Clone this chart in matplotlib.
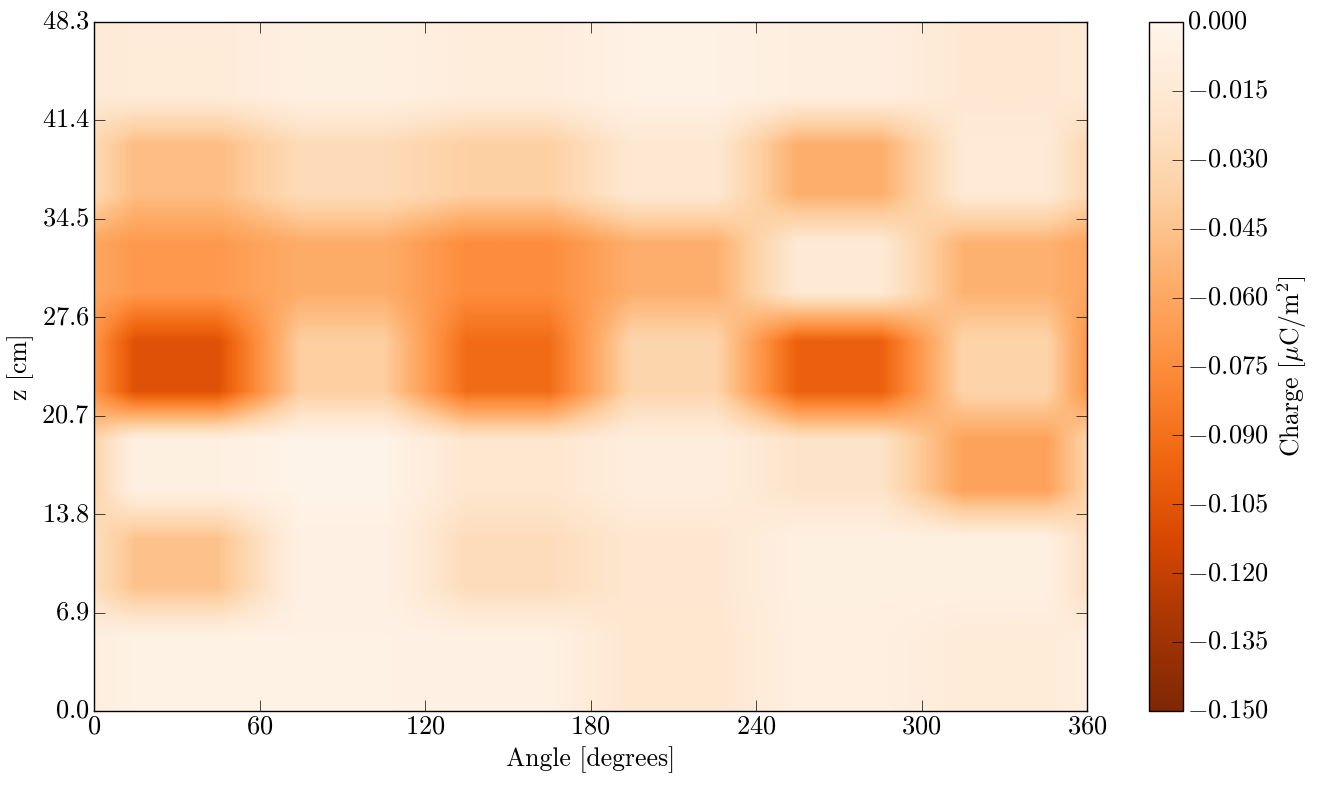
#!/usr/bin/env python3
"""
Surface charge map: angle vs height, smoothed heat map.
"""

import numpy as np
import matplotlib
matplotlib.use('Agg')
import matplotlib.pyplot as plt

plt.style.use('classic')
plt.rcParams['font.family'] = 'serif'
plt.rcParams['font.serif'] = ['cmr10', 'DejaVu Serif']
plt.rcParams['mathtext.fontset'] = 'cm'
plt.rcParams['axes.unicode_minus'] = False

# Bin edges
angle_edges = [0, 60, 120, 180, 240, 300, 360]
z_edges = [0.0, 6.9, 13.8, 20.7, 27.6, 34.5, 41.4, 48.3]

# Charge per bin [uC/m^2], rows = z bins from bottom, columns = angle bins
row_z0 = [-0.004, -0.004, -0.005, -0.018, -0.007, -0.012]
row_z1 = [-0.045, -0.005, -0.027, -0.017, -0.006, -0.006]
row_z2 = [-0.006, -0.002, -0.018, -0.009, -0.021, -0.063]
row_z3 = [-0.107, -0.038, -0.092, -0.033, -0.099, -0.034]
row_z4 = [-0.068, -0.057, -0.075, -0.056, -0.015, -0.054]
row_z5 = [-0.048, -0.028, -0.037, -0.016, -0.056, -0.014]
row_z6 = [-0.012, -0.006, -0.010, -0.004, -0.008, -0.016]

cbar_ticks = [0.0, -0.015, -0.030, -0.045, -0.060, -0.075, -0.090,
              -0.105, -0.120, -0.135, -0.150]

charge = np.array([row_z0, row_z1, row_z2, row_z3, row_z4, row_z5, row_z6])

# upsample each bin to 2x2 and wrap one column around in angle
img = np.repeat(np.repeat(charge, 2, axis=0), 2, axis=1)
img = np.hstack([img[:, -1:], img, img[:, :1]])
dstep = (angle_edges[1] - angle_edges[0]) / 2.0

fig = plt.figure(figsize=(13.17, 7.88), dpi=100)
fig.patch.set_facecolor('white')
ax = fig.add_axes([0.0714, 0.0977, 0.754, 0.8744])
cax = fig.add_axes([0.8724, 0.0977, 0.0259, 0.8744])

im = ax.imshow(img, origin='lower', aspect='auto', cmap='Oranges_r',
               vmin=-0.15, vmax=0.0, interpolation='bilinear',
               extent=[angle_edges[0] - dstep, angle_edges[-1] + dstep,
                       z_edges[0], z_edges[-1]])
ax.set_xlim(angle_edges[0], angle_edges[-1])
ax.set_ylim(z_edges[0], z_edges[-1])

ax.set_xticks(angle_edges)
ax.set_xticklabels([f'${a}$' for a in angle_edges])
ax.set_yticks(z_edges)
ax.set_yticklabels([f'${z:.1f}$' for z in z_edges])
ax.tick_params(axis='both', which='major', direction='in', length=8,
               labelsize=19, top=True, right=True, pad=3)
ax.set_xlabel('Angle [degrees]', fontsize=18.5)
ax.set_ylabel('z [cm]', fontsize=18.5)

cb = fig.colorbar(im, cax=cax, ticks=cbar_ticks)
cb.ax.set_yticklabels([f'${t:.3f}$' for t in cbar_ticks])
cb.ax.tick_params(direction='in', length=8, labelsize=19, pad=3)
cb.set_label(r'Charge [$\mu$C/m$^2$]', fontsize=18.5)
cb.outline.set_linewidth(1.0)

fig.savefig('out.png', dpi=100, facecolor='white')
